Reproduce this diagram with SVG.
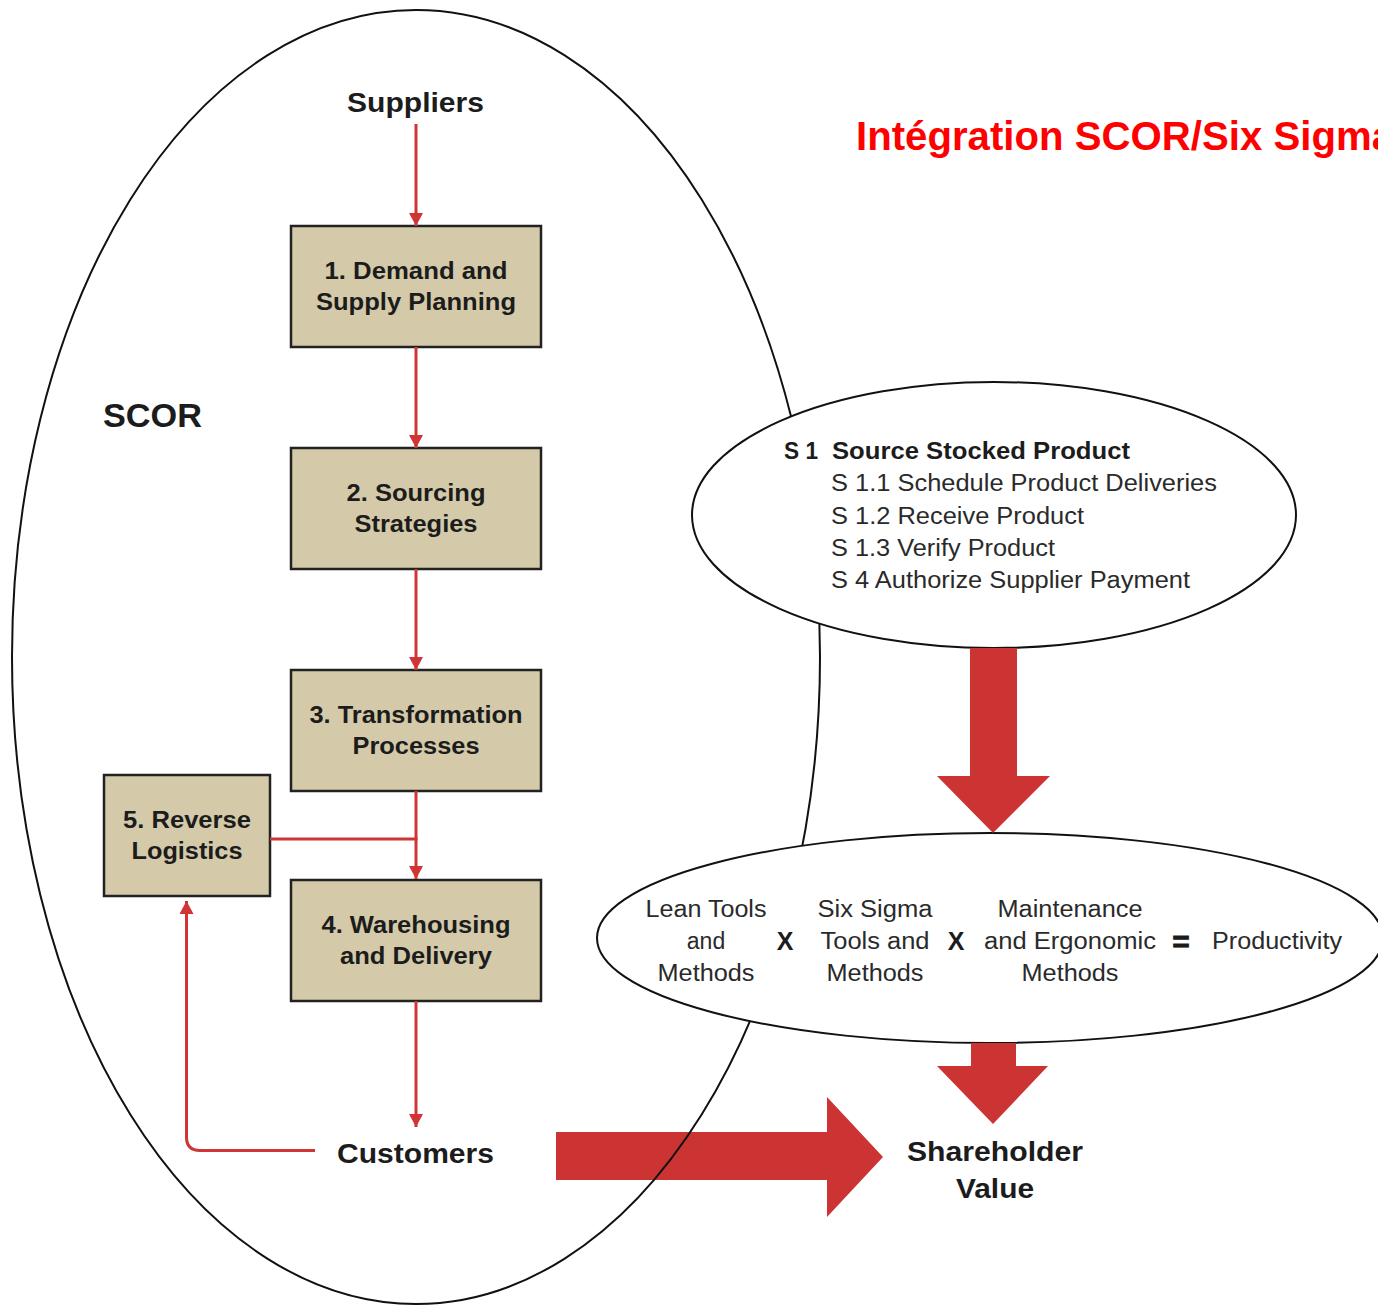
<svg xmlns="http://www.w3.org/2000/svg" width="1378" height="1306" viewBox="0 0 1378 1306">
  <style>
    .lbl { font-family: "Liberation Sans", Arial, Helvetica, sans-serif; fill: #1c1c1c; }
    .b { font-weight: bold; }
    .bx { font-size: 23px; font-weight: bold; text-anchor: middle; }
    .big { font-size: 28px; font-weight: bold; text-anchor: middle; }
    .reg { font-size: 23px; fill: #2a2a2a; }
    .mid { text-anchor: middle; }
    .box { fill: #d4caa9; stroke: #222; stroke-width: 2.5; }
    .oval { fill: #ffffff; stroke: #111; stroke-width: 2; }
    .link { fill: none; stroke: #d03434; stroke-width: 3; }
    .fat { fill: #cc3333; }
  </style>
  <defs>
    <marker id="tip" markerUnits="userSpaceOnUse" markerWidth="16" markerHeight="14" refX="13" refY="7" orient="auto">
      <path d="M0,0 L13,7 L0,14 Z" fill="#d03434"/>
    </marker>
  </defs>

  <rect width="1378" height="1306" fill="#ffffff"/>

  <!-- wide arrow from customers to shareholder value -->
  <g id="value-arrow">
    <path class="fat" d="M556,1132 H827 V1097 L883,1157 L827,1217 V1180 H556 Z"/>
  </g>

  <!-- SCOR boundary -->
  <g id="scor-boundary">
    <ellipse cx="416" cy="657" rx="404" ry="647" fill="none" stroke="#111" stroke-width="2"/>
  </g>

  <!-- title -->
  <g id="title">
    <text class="lbl b" x="856" y="150" font-size="41" fill="#ff0000" style="fill:#ff0000" textLength="538" lengthAdjust="spacingAndGlyphs">Intégration SCOR/Six Sigma</text>
  </g>

  <g id="scor-label">
    <text class="lbl b" x="103" y="427" font-size="33" textLength="99" lengthAdjust="spacingAndGlyphs">SCOR</text>
  </g>

  <g id="suppliers">
    <text class="lbl big" x="415.5" y="112" textLength="137" lengthAdjust="spacingAndGlyphs">Suppliers</text>
  </g>

  <g id="box1">
    <rect class="box" x="291" y="226" width="250" height="121"/>
    <text class="lbl bx" x="416" y="279" textLength="183" lengthAdjust="spacingAndGlyphs">1. Demand and</text>
    <text class="lbl bx" x="416" y="310" textLength="200" lengthAdjust="spacingAndGlyphs">Supply Planning</text>
  </g>

  <g id="box2">
    <rect class="box" x="291" y="448" width="250" height="121"/>
    <text class="lbl bx" x="416" y="501" textLength="139" lengthAdjust="spacingAndGlyphs">2. Sourcing</text>
    <text class="lbl bx" x="416" y="532" textLength="123" lengthAdjust="spacingAndGlyphs">Strategies</text>
  </g>

  <g id="box3">
    <rect class="box" x="291" y="670" width="250" height="121"/>
    <text class="lbl bx" x="416" y="723" textLength="213" lengthAdjust="spacingAndGlyphs">3. Transformation</text>
    <text class="lbl bx" x="416" y="754" textLength="127" lengthAdjust="spacingAndGlyphs">Processes</text>
  </g>

  <g id="box4">
    <rect class="box" x="291" y="880" width="250" height="121"/>
    <text class="lbl bx" x="416" y="933" textLength="189" lengthAdjust="spacingAndGlyphs">4. Warehousing</text>
    <text class="lbl bx" x="416" y="964" textLength="152" lengthAdjust="spacingAndGlyphs">and Delivery</text>
  </g>

  <g id="box5">
    <rect class="box" x="104" y="775" width="166" height="121"/>
    <text class="lbl bx" x="187" y="828" textLength="128" lengthAdjust="spacingAndGlyphs">5. Reverse</text>
    <text class="lbl bx" x="187" y="859" textLength="111" lengthAdjust="spacingAndGlyphs">Logistics</text>
  </g>

  <g id="customers">
    <text class="lbl big" x="415.5" y="1163" textLength="157" lengthAdjust="spacingAndGlyphs">Customers</text>
  </g>

  <!-- process flow connectors -->
  <g id="connectors">
    <line class="link" x1="416" y1="124" x2="416" y2="226" marker-end="url(#tip)"/>
    <line class="link" x1="416" y1="347" x2="416" y2="448" marker-end="url(#tip)"/>
    <line class="link" x1="416" y1="569" x2="416" y2="670" marker-end="url(#tip)"/>
    <line class="link" x1="416" y1="791" x2="416" y2="879" marker-end="url(#tip)"/>
    <line class="link" x1="270" y1="839" x2="417.5" y2="839"/>
    <line class="link" x1="416" y1="1001" x2="416" y2="1127" marker-end="url(#tip)"/>
    <path class="link" d="M315,1150.5 H200 Q186.5,1150.5 186.5,1137 V901" marker-end="url(#tip)"/>
  </g>

  <!-- source process detail -->
  <g id="source-stocked">
    <ellipse class="oval" cx="994" cy="515" rx="302" ry="133"/>
    <text class="lbl b" x="784" y="459" font-size="23" textLength="34" lengthAdjust="spacingAndGlyphs">S 1</text>
    <text class="lbl b" x="832" y="459" font-size="23" textLength="298" lengthAdjust="spacingAndGlyphs">Source Stocked Product</text>
    <text class="lbl reg" x="831" y="491" textLength="386" lengthAdjust="spacingAndGlyphs">S 1.1 Schedule Product Deliveries</text>
    <text class="lbl reg" x="831" y="524" textLength="253" lengthAdjust="spacingAndGlyphs">S 1.2 Receive Product</text>
    <text class="lbl reg" x="831" y="556" textLength="224" lengthAdjust="spacingAndGlyphs">S 1.3 Verify Product</text>
    <text class="lbl reg" x="831" y="588" textLength="359" lengthAdjust="spacingAndGlyphs">S 4 Authorize Supplier Payment</text>
  </g>

  <!-- productivity equation -->
  <g id="productivity">
    <ellipse class="oval" cx="990" cy="938" rx="393" ry="105"/>
    <text class="lbl reg mid" x="706" y="917" textLength="121" lengthAdjust="spacingAndGlyphs">Lean Tools</text>
    <text class="lbl reg mid" x="706" y="949">and</text>
    <text class="lbl reg mid" x="706" y="981" textLength="97" lengthAdjust="spacingAndGlyphs">Methods</text>
    <text class="lbl b mid" x="785" y="950" font-size="25">X</text>
    <text class="lbl reg mid" x="875" y="917" textLength="115" lengthAdjust="spacingAndGlyphs">Six Sigma</text>
    <text class="lbl reg mid" x="875" y="949" textLength="109" lengthAdjust="spacingAndGlyphs">Tools and</text>
    <text class="lbl reg mid" x="875" y="981" textLength="97" lengthAdjust="spacingAndGlyphs">Methods</text>
    <text class="lbl b mid" x="956" y="950" font-size="25">X</text>
    <text class="lbl reg mid" x="1070" y="917" textLength="145" lengthAdjust="spacingAndGlyphs">Maintenance</text>
    <text class="lbl reg mid" x="1070" y="949" textLength="172" lengthAdjust="spacingAndGlyphs">and Ergonomic</text>
    <text class="lbl reg mid" x="1070" y="981" textLength="97" lengthAdjust="spacingAndGlyphs">Methods</text>
    <text class="lbl b mid" x="1181" y="952" font-size="30" stroke="#1c1c1c" stroke-width="0.8">=</text>
    <text class="lbl reg mid" x="1277" y="949" textLength="130" lengthAdjust="spacingAndGlyphs">Productivity</text>
  </g>

  <!-- flow arrows between the ovals -->
  <g id="flow-arrows">
    <path class="fat" d="M970,648 H1017 V776 H1050 L993,833 L937,776 H970 Z"/>
    <path class="fat" d="M971,1043 H1016 V1066 H1048 L993,1124 L937,1066 H971 Z"/>
  </g>

  <g id="shareholder-value">
    <text class="lbl big" x="995" y="1161" textLength="176" lengthAdjust="spacingAndGlyphs">Shareholder</text>
    <text class="lbl big" x="995" y="1198" textLength="78" lengthAdjust="spacingAndGlyphs">Value</text>
  </g>
</svg>
